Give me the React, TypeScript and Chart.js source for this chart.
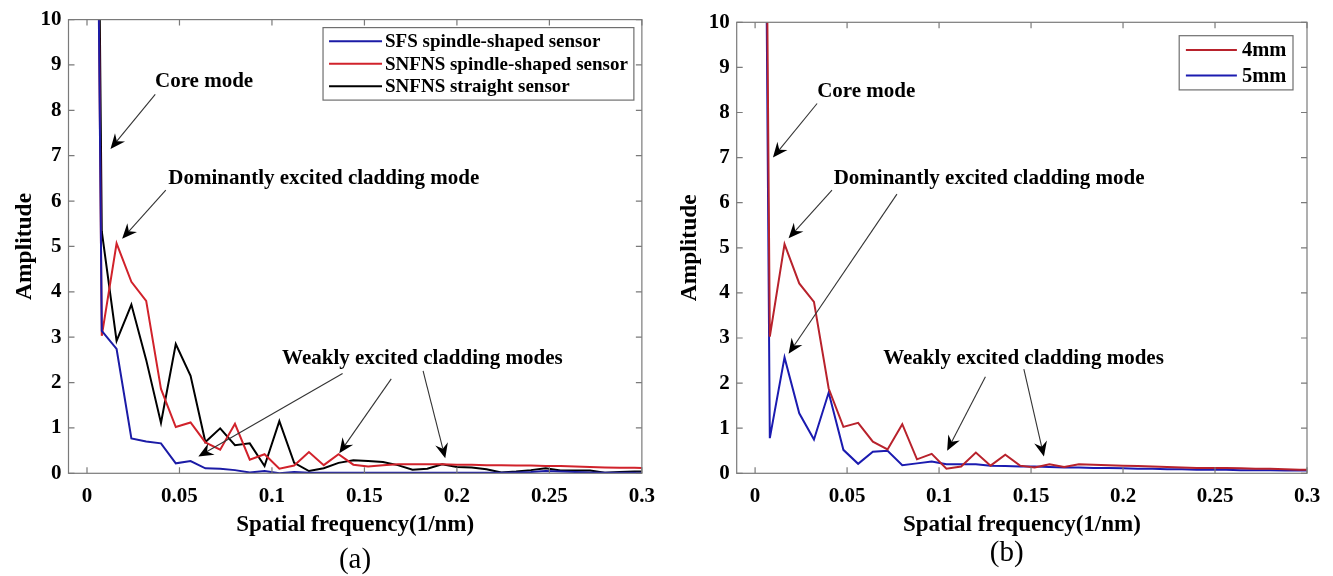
import React, { useEffect, useRef } from "react";
import { Chart, registerables } from "chart.js";
Chart.register(...registerables);

// ---------- data ----------
const xFreq = [0, 0.008, 0.016, 0.024, 0.032, 0.04, 0.048, 0.056, 0.064, 0.072, 0.08, 0.088, 0.096, 0.104, 0.112, 0.12, 0.128, 0.136, 0.144, 0.152, 0.16, 0.168, 0.176, 0.184, 0.192, 0.2, 0.208, 0.216, 0.224, 0.232, 0.24, 0.248, 0.256, 0.264, 0.272, 0.28, 0.288, 0.296, 0.304];

const sfsSpindle = [38, 3.14, 2.74, 0.77, 0.7, 0.66, 0.22, 0.27, 0.11, 0.1, 0.07, 0.02, 0.05, 0.0, 0.03, 0.01, 0.01, 0.01, 0.01, 0.01, 0.01, 0.01, 0.01, 0.01, 0.01, 0.01, 0.01, 0.01, 0.01, 0.02, 0.03, 0.05, 0.04, 0.03, 0.02, 0.01, 0.01, 0.01, 0.01];
const snfnsSpindle = [40, 3.03, 5.07, 4.22, 3.8, 1.86, 1.02, 1.12, 0.68, 0.52, 1.09, 0.3, 0.42, 0.1, 0.17, 0.47, 0.18, 0.42, 0.19, 0.15, 0.18, 0.2, 0.2, 0.2, 0.2, 0.19, 0.19, 0.18, 0.18, 0.17, 0.17, 0.16, 0.16, 0.15, 0.14, 0.13, 0.12, 0.12, 0.11];
const snfnsStraight = [40, 5.33, 2.92, 3.72, 2.5, 1.11, 2.85, 2.15, 0.69, 0.99, 0.62, 0.66, 0.16, 1.15, 0.23, 0.05, 0.11, 0.23, 0.29, 0.27, 0.25, 0.18, 0.08, 0.1, 0.2, 0.14, 0.13, 0.09, 0.02, 0.04, 0.07, 0.11, 0.06, 0.06, 0.06, 0.01, 0.03, 0.04, 0.04];

const red4mm = [45, 3.03, 5.08, 4.21, 3.8, 1.88, 1.03, 1.12, 0.7, 0.53, 1.09, 0.31, 0.43, 0.1, 0.15, 0.46, 0.17, 0.41, 0.17, 0.13, 0.2, 0.14, 0.2, 0.19, 0.18, 0.17, 0.16, 0.15, 0.14, 0.13, 0.12, 0.12, 0.12, 0.11, 0.1, 0.1, 0.09, 0.08, 0.08];
const blue5mm = [45, 0.78, 2.57, 1.33, 0.75, 1.79, 0.52, 0.21, 0.48, 0.5, 0.18, 0.22, 0.26, 0.2, 0.2, 0.2, 0.17, 0.16, 0.15, 0.15, 0.14, 0.13, 0.13, 0.12, 0.12, 0.11, 0.1, 0.1, 0.09, 0.09, 0.08, 0.08, 0.08, 0.07, 0.07, 0.07, 0.06, 0.06, 0.06];

const seriesNamesA = ["SFS spindle-shaped sensor", "SNFNS spindle-shaped sensor", "SNFNS straight sensor"];
const seriesNamesB = ["4mm", "5mm"];

const yTicks = [0, 1, 2, 3, 4, 5, 6, 7, 8, 9, 10];
const xTicks = [0, 0.05, 0.1, 0.15, 0.2, 0.25, 0.3];
const xTickLabels = ["0", "0.05", "0.1", "0.15", "0.2", "0.25", "0.3"];

const xTitle = "Spatial frequency(1/nm)";
const yTitle = "Amplitude";

// annotation texts & arrows (data coordinates)
const notesA = [
  { text: "Core mode", x: 0.0633, y: 8.64 },
  { text: "Dominantly excited cladding mode", x: 0.128, y: 6.49 },
  { text: "Weakly excited cladding modes", x: 0.1813, y: 2.52 },
];
const arrowsA = [
  { x1: 0.0369, y1: 8.35, x2: 0.0127, y2: 7.15 },
  { x1: 0.0426, y1: 6.24, x2: 0.019, y2: 5.17 },
  { x1: 0.1382, y1: 2.2, x2: 0.0602, y2: 0.37 },
  { x1: 0.1645, y1: 2.08, x2: 0.1364, y2: 0.44 },
  { x1: 0.1817, y1: 2.26, x2: 0.1937, y2: 0.33 },
];
const notesB = [
  { text: "Core mode", x: 0.0604, y: 8.46 },
  { text: "Dominantly excited cladding mode", x: 0.1272, y: 6.54 },
  { text: "Weakly excited cladding modes", x: 0.1459, y: 2.55 },
];
const arrowsB = [
  { x1: 0.0337, y1: 8.2, x2: 0.0097, y2: 7.0 },
  { x1: 0.0418, y1: 6.28, x2: 0.0182, y2: 5.21 },
  { x1: 0.0771, y1: 6.19, x2: 0.0182, y2: 2.65 },
  { x1: 0.1252, y1: 2.14, x2: 0.1044, y2: 0.5 },
  { x1: 0.1461, y1: 2.31, x2: 0.157, y2: 0.37 },
];

const SERIF = "'Liberation Serif', 'Times New Roman', Times, serif";

function drawArrow(ctx: CanvasRenderingContext2D, x1: number, y1: number, x2: number, y2: number) {
  const dx = x2 - x1, dy = y2 - y1;
  const len = Math.hypot(dx, dy);
  const ux = dx / len, uy = dy / len;
  const nx = -uy, ny = ux;
  const L = 15, W = 6.5, notch = 5;
  ctx.save();
  ctx.strokeStyle = "#333";
  ctx.lineWidth = 1.1;
  ctx.beginPath();
  ctx.moveTo(x1, y1);
  ctx.lineTo(x2 - ux * (L - notch), y2 - uy * (L - notch));
  ctx.stroke();
  ctx.fillStyle = "#000";
  ctx.beginPath();
  ctx.moveTo(x2, y2);
  ctx.lineTo(x2 - ux * L + nx * W, y2 - uy * L + ny * W);
  ctx.lineTo(x2 - ux * (L - notch), y2 - uy * (L - notch));
  ctx.lineTo(x2 - ux * L - nx * W, y2 - uy * L - ny * W);
  ctx.closePath();
  ctx.fill();
  ctx.restore();
}

const decorPlugin = {
  id: "decor",
  afterDatasetsDraw(chart: any, _args: any, opts: any) {
    const { ctx, chartArea: ca, scales } = chart;
    const xs = scales.x, ys = scales.y;
    // frame + inward ticks
    ctx.save();
    ctx.strokeStyle = "#7a7a7a";
    ctx.lineWidth = 1.2;
    ctx.strokeRect(ca.left, ca.top, ca.right - ca.left, ca.bottom - ca.top);
    const tl = 6;
    ctx.beginPath();
    xTicks.forEach((v) => {
      const px = xs.getPixelForValue(v);
      ctx.moveTo(px, ca.bottom); ctx.lineTo(px, ca.bottom - tl);
      ctx.moveTo(px, ca.top); ctx.lineTo(px, ca.top + tl);
    });
    yTicks.forEach((v) => {
      const py = ys.getPixelForValue(v);
      ctx.moveTo(ca.left, py); ctx.lineTo(ca.left + tl, py);
      ctx.moveTo(ca.right, py); ctx.lineTo(ca.right - tl, py);
    });
    ctx.stroke();
    ctx.restore();

    // annotations
    ctx.save();
    ctx.font = `bold ${opts.noteSize}px ${SERIF}`;
    ctx.fillStyle = "#000";
    ctx.textAlign = "center";
    ctx.textBaseline = "middle";
    opts.notes.forEach((n: any) => {
      ctx.fillText(n.text, xs.getPixelForValue(n.x), ys.getPixelForValue(n.y));
    });
    ctx.restore();
    opts.arrows.forEach((a: any) => {
      drawArrow(ctx, xs.getPixelForValue(a.x1), ys.getPixelForValue(a.y1), xs.getPixelForValue(a.x2), ys.getPixelForValue(a.y2));
    });

    // legend
    const lg = opts.legend;
    ctx.save();
    ctx.font = `bold ${lg.fontSize}px ${SERIF}`;
    const names = chart.data.datasets.map((d: any) => d.label);
    const tw = Math.max(...names.map((s: string) => ctx.measureText(s).width));
    const boxW = lg.padL + lg.lineLen + lg.gap + tw + lg.padR;
    const boxH = lg.padT * 2 + lg.rowH * names.length;
    const bx = ca.right - lg.offRight - boxW;
    const by = ca.top + lg.offTop;
    ctx.fillStyle = "#fff";
    ctx.fillRect(bx, by, boxW, boxH);
    ctx.strokeStyle = "#6f6f6f";
    ctx.lineWidth = 1.2;
    ctx.strokeRect(bx, by, boxW, boxH);
    ctx.textAlign = "left";
    ctx.textBaseline = "middle";
    chart.data.datasets.forEach((d: any, i: number) => {
      const cy = by + lg.padT + lg.rowH * (i + 0.5);
      ctx.strokeStyle = d.borderColor;
      ctx.lineWidth = 2;
      ctx.beginPath();
      ctx.moveTo(bx + lg.padL, cy);
      ctx.lineTo(bx + lg.padL + lg.lineLen, cy);
      ctx.stroke();
      ctx.fillStyle = "#000";
      ctx.fillText(d.label, bx + lg.padL + lg.lineLen + lg.gap, cy + 1);
    });
    ctx.restore();

    // panel label
    ctx.save();
    ctx.font = `29px ${SERIF}`;
    ctx.fillStyle = "#000";
    ctx.textAlign = "center";
    ctx.textBaseline = "middle";
    ctx.fillText(opts.panel, opts.panelX, opts.panelY);
    ctx.restore();
  },
};

function makeConfig(p: any) {
  return {
    type: "line",
    data: {
      datasets: p.datasets.map((d: any) => ({
        label: d.label,
        data: xFreq.map((x, i) => ({ x, y: d.values[i] })),
        borderColor: d.color,
        backgroundColor: d.color,
        borderWidth: 2,
        pointRadius: 0,
        tension: 0,
        fill: false,
      })),
    },
    plugins: [decorPlugin],
    options: {
      animation: false,
      responsive: false,
      maintainAspectRatio: false,
      layout: { padding: p.padding },
      plugins: {
        legend: { display: false },
        tooltip: { enabled: false },
        decor: {
          notes: p.notes,
          arrows: p.arrows,
          noteSize: 21,
          legend: p.legend,
          panel: p.panel,
          panelX: p.panelX,
          panelY: p.panelY,
        },
      },
      scales: {
        x: {
          type: "linear",
          min: -0.01,
          max: 0.3,
          afterFit: (s: any) => { s.height = p.xAxisH; },
          afterBuildTicks: (s: any) => { s.ticks = xTicks.map((v) => ({ value: v })); },
          grid: { display: false, drawTicks: false },
          border: { display: false },
          ticks: {
            padding: 11,
            color: "#000",
            font: { family: SERIF, size: 21, weight: "bold" },
            callback: (v: number) => { const i = xTicks.indexOf(v); return i >= 0 ? xTickLabels[i] : ""; },
            maxRotation: 0,
            autoSkip: false,
          },
          title: {
            display: true,
            text: xTitle,
            color: "#000",
            font: { family: SERIF, size: 23, weight: "bold" },
            padding: { top: 0, bottom: 4.5 },
          },
        },
        y: {
          type: "linear",
          min: 0,
          max: 10,
          afterFit: (s: any) => { s.width = p.yAxisW; },
          afterBuildTicks: (s: any) => { s.ticks = yTicks.map((v) => ({ value: v })); },
          grid: { display: false, drawTicks: false },
          border: { display: false },
          ticks: {
            padding: 7,
            color: "#000",
            font: { family: SERIF, size: 21, weight: "bold" },
            callback: (v: number) => String(v),
          },
          title: {
            display: true,
            text: yTitle,
            color: "#000",
            font: { family: SERIF, size: 23.5, weight: "bold" },
            padding: { top: p.yTitlePad, bottom: 0 },
          },
        },
      },
    },
  };
}

function Panel(props: { cfg: any; left: number; width: number }) {
  const ref = useRef<HTMLCanvasElement>(null);
  useEffect(() => {
    const chart = new Chart(ref.current as HTMLCanvasElement, props.cfg);
    return () => chart.destroy();
  }, []);
  return (
    <canvas
      ref={ref}
      width={props.width}
      height={576}
      style={{ position: "absolute", left: props.left, top: 0, width: props.width, height: 576 }}
    />
  );
}

const cfgA = makeConfig({
  datasets: [
    { label: seriesNamesA[0], values: sfsSpindle, color: "#1b1ba6" },
    { label: seriesNamesA[1], values: snfnsSpindle, color: "#d1222b" },
    { label: seriesNamesA[2], values: snfnsStraight, color: "#000000" },
  ],
  notes: notesA,
  arrows: arrowsA,
  padding: { left: 0, right: 20, top: 18.3, bottom: 32.7 },
  xAxisH: 70,
  yAxisW: 68.5,
  yTitlePad: 11,
  legend: { fontSize: 19, rowH: 22.5, padT: 2.5, padL: 6, padR: 6, lineLen: 53, gap: 3, offRight: 8, offTop: 8 },
  panel: "(a)",
  panelX: 355,
  panelY: 560,
});

const cfgB = makeConfig({
  datasets: [
    { label: seriesNamesB[0], values: red4mm, color: "#b8222c" },
    { label: seriesNamesB[1], values: blue5mm, color: "#1b1bb0" },
  ],
  notes: notesB,
  arrows: arrowsB,
  padding: { left: 0, right: 26, top: 22.3, bottom: 32.7 },
  xAxisH: 70,
  yAxisW: 70.7,
  yTitlePad: 10,
  legend: { fontSize: 20.5, rowH: 25.6, padT: 1.5, padL: 6.7, padR: 6.7, lineLen: 51, gap: 5, offRight: 14, offTop: 13.4 },
  panel: "(b)",
  panelX: 340.7,
  panelY: 553,
});

export default function App() {
  return (
    <div style={{ position: "absolute", left: 0, top: 0, width: 1333, height: 576, background: "#fff" }}>
      <Panel cfg={cfgA} left={0} width={666} />
      <Panel cfg={cfgB} left={666} width={667} />
    </div>
  );
}
